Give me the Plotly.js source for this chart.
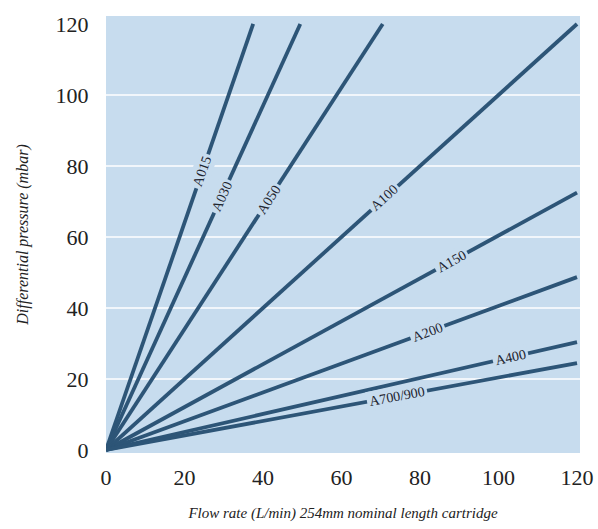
<!DOCTYPE html>
<html>
<head>
<meta charset="utf-8">
<script src="https://cdn.plot.ly/plotly-3.0.1.min.js"></script>
<style>
html,body{margin:0;padding:0;background:#fff;}
#chart{width:598px;height:529px;}
</style>
</head>
<body>
<div id="chart"></div>
<script>
// Series: each line runs from origin to its end point
var seriesNames = ["A015", "A030", "A050", "A100", "A150", "A200", "A400", "A700/900"];
var flowStart = [0, 0, 0, 0, 0, 0, 0, 0];
var pressureStart = [0, 0, 0, 0, 0, 0, 0, 0];
var flowEnd = [37.5, 49.5, 70.5, 120, 120, 120, 120, 120];
var pressureEnd = [120, 120, 120, 120, 72.5, 48.7, 30.4, 24.5];
// label positions along each line (x in L/min)
var labelFlow = [24.5, 29.5, 41.5, 71, 88, 81.8, 103, 74.1];
var gridValues = [20, 40, 60, 80, 100];
var xTicks = [0, 20, 40, 60, 80, 100, 120];
var yTicks = [0, 20, 40, 60, 80, 100, 120];

var bg = "#c7dcee";
var lineColor = "#2d5577";
var serif = "Liberation Serif, DejaVu Serif, serif";

var W = 598, H = 529;
var margin = {l: 106, r: 18, t: 16, b: 76};
var xRange = [0, 120.76];
var yRange = [-0.85, 122.25];
var pw = W - margin.l - margin.r, ph = H - margin.t - margin.b;
var sx = pw / (xRange[1] - xRange[0]);
var sy = ph / (yRange[1] - yRange[0]);

var traces = seriesNames.map(function (n, i) {
  return {
    type: "scatter", mode: "lines", name: n,
    x: [flowStart[i], flowEnd[i]],
    y: [pressureStart[i], pressureEnd[i]],
    line: {color: lineColor, width: 3.8},
    hoverinfo: "skip"
  };
});

var annotations = seriesNames.map(function (n, i) {
  var slope = (pressureEnd[i] - pressureStart[i]) / (flowEnd[i] - flowStart[i]);
  var ang = Math.atan(slope * sy / sx) * 180 / Math.PI;
  return {
    x: labelFlow[i], y: labelFlow[i] * slope,
    xref: "x", yref: "y",
    text: n, showarrow: false,
    textangle: -ang,
    bgcolor: bg,
    borderpad: 2,
    font: {family: serif, size: 14, color: "#1e2530"}
  };
});

var shapes = gridValues.map(function (v) {
  return {
    type: "line", xref: "paper", yref: "y",
    x0: 0, x1: 1, y0: v, y1: v,
    line: {color: "#ffffff", width: 1.5},
    layer: "below"
  };
});

var layout = {
  width: W, height: H,
  margin: margin,
  paper_bgcolor: "#ffffff",
  plot_bgcolor: bg,
  showlegend: false,
  xaxis: {
    range: xRange, tickvals: xTicks, ticktext: xTicks.map(String),
    showgrid: false, zeroline: false, showline: false,
    ticks: "outside", ticklen: 5, tickcolor: "rgba(0,0,0,0)",
    tickfont: {family: serif, size: 22, color: "#222"},
    title: {text: "<i>Flow rate (L/min) 254mm nominal length cartridge</i>",
            font: {family: serif, size: 15, color: "#222"}, standoff: 18}
  },
  yaxis: {
    range: yRange, tickvals: yTicks, ticktext: yTicks.map(String),
    showgrid: false, zeroline: false, showline: false,
    ticks: "outside", ticklen: 12, tickcolor: "rgba(0,0,0,0)",
    tickfont: {family: serif, size: 22, color: "#222"},
    title: {text: "<i>Differential pressure (mbar)</i>",
            font: {family: serif, size: 16, color: "#222"}, standoff: 22}
  },
  shapes: shapes,
  annotations: annotations
};

Plotly.newPlot("chart", traces, layout, {displayModeBar: false, staticPlot: true});
</script>
</body>
</html>
